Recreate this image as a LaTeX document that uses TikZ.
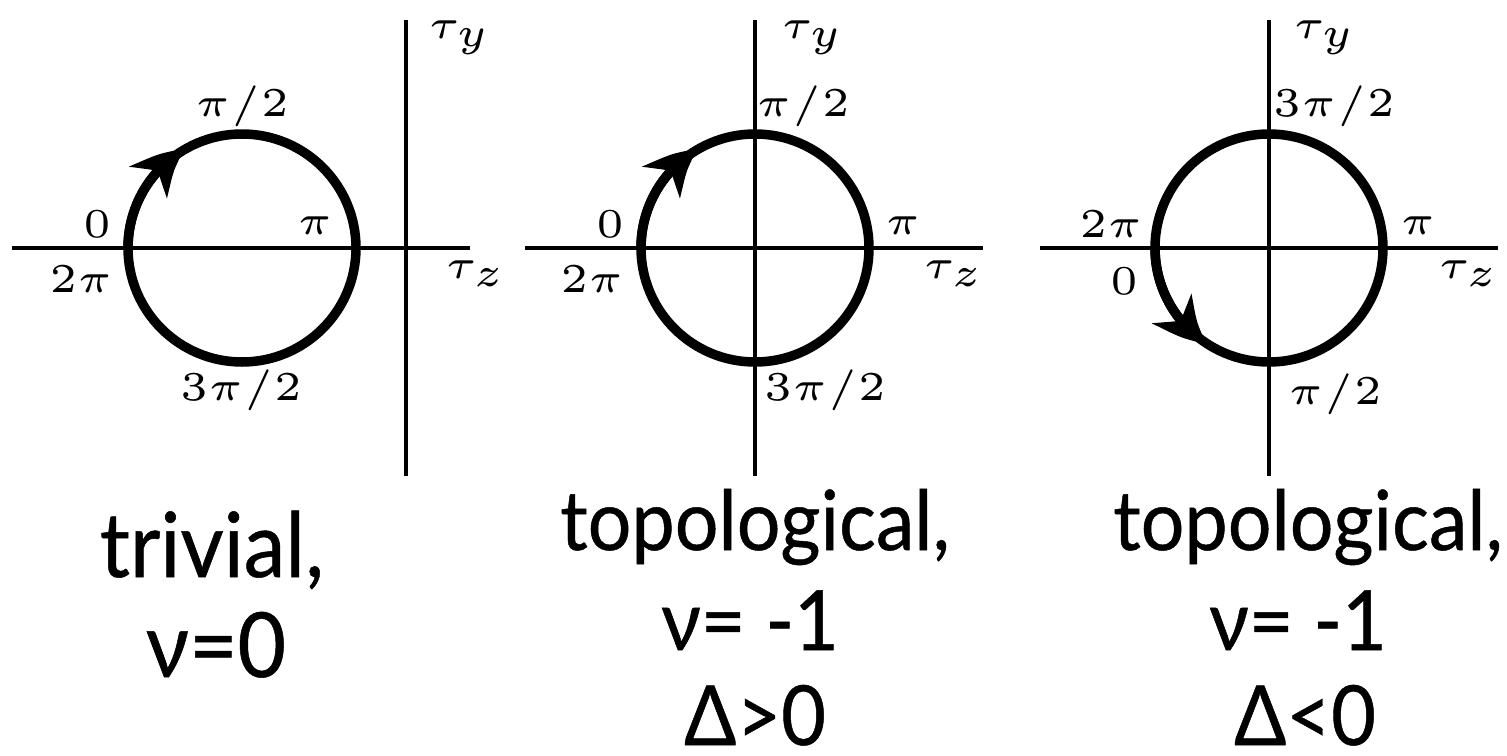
\documentclass[tikz,border=0pt]{standalone}
\usepackage[no-math]{fontspec}
\newfontfamily\gillfont[FakeBold=0.6]{Lato}
\usetikzlibrary{arrows.meta,bending}
\newcommand\mlab[1]{\scalebox{8.2}{$\scriptscriptstyle #1$}}
\newcommand\capt[1]{\scalebox{0.93}[1]{#1}}
\newcommand\captflat[1]{\raisebox{0pt}[\height][0pt]{\scalebox{0.93}[1]{#1}}}
\begin{document}
\begin{tikzpicture}[x=1pt,y=-1pt,
  axis/.style={line width=4pt},
  orbit/.style={line width=9.5pt},
  flow/.style={line width=9.5pt,-{Stealth[length=50pt,width=48pt,inset=15pt,bend]}},
  lab/.style={inner sep=0pt,anchor=base},
  labl/.style={inner sep=0pt,anchor=base west},
  capA/.style={inner sep=0pt,anchor=base,font=\gillfont\fontsize{90}{96}\selectfont},
  capB/.style={inner sep=0pt,anchor=base,font=\gillfont\fontsize{83}{90}\selectfont}]
\useasboundingbox (0,0) rectangle (1507,755);

% ---------- panel 1 ----------
\coordinate (c1) at (242,248);
\coordinate (h1a) at (12,248);  \coordinate (h1b) at (470,248);
\coordinate (v1a) at (406,20);  \coordinate (v1b) at (406,476);
\draw[axis] (h1a) -- (h1b);
\draw[axis] (v1a) -- (v1b);
\draw[orbit] (c1) circle[radius=114];
\draw[flow] (c1) ++(180:114) arc[start angle=180,end angle=240,radius=114];
\node[lab] (p1top) at (242,116) {\mlab{\pi/2}};
\node[lab] (p1zero) at (97,237) {\mlab{0}};
\node[lab] (p1pi) at (315,234) {\mlab{\pi}};
\node[lab] (p1tpi) at (81,292) {\mlab{2\pi}};
\node[lab] (p1bot) at (241,400) {\mlab{3\pi/2}};
\node[labl] (p1ty) at (428,38) {\mlab{\tau_y}};
\node[labl] (p1tz) at (445,278) {\mlab{\tau_z}};

% ---------- panel 2 ----------
\coordinate (c2) at (755,248);
\coordinate (h2a) at (525,248);  \coordinate (h2b) at (983,248);
\coordinate (v2a) at (755,20);   \coordinate (v2b) at (755,476);
\draw[axis] (h2a) -- (h2b);
\draw[axis] (v2a) -- (v2b);
\draw[orbit] (c2) circle[radius=114];
\draw[flow] (c2) ++(180:114) arc[start angle=180,end angle=240,radius=114];
\node[lab] (p2top) at (803,116) {\mlab{\pi/2}};
\node[lab] (p2zero) at (610,237) {\mlab{0}};
\node[lab] (p2pi) at (903,234) {\mlab{\pi}};
\node[lab] (p2tpi) at (592,292) {\mlab{2\pi}};
\node[lab] (p2bot) at (825,400) {\mlab{3\pi/2}};
\node[labl] (p2ty) at (781,38) {\mlab{\tau_y}};
\node[labl] (p2tz) at (923,278) {\mlab{\tau_z}};

% ---------- panel 3 ----------
\coordinate (c3) at (1269,248);
\coordinate (h3a) at (1040,248);  \coordinate (h3b) at (1498,248);
\coordinate (v3a) at (1269,20);   \coordinate (v3b) at (1269,476);
\draw[axis] (h3a) -- (h3b);
\draw[axis] (v3a) -- (v3b);
\draw[orbit] (c3) circle[radius=114];
\draw[flow] (c3) ++(180:114) arc[start angle=180,end angle=123,radius=114];
\node[lab] (p3top) at (1334,116) {\mlab{3\pi/2}};
\node[lab] (p3tpi) at (1111,237) {\mlab{2\pi}};
\node[lab] (p3pi) at (1418,234) {\mlab{\pi}};
\node[lab] (p3zero) at (1124,294) {\mlab{0}};
\node[lab] (p3bot) at (1335,404) {\mlab{\pi/2}};
\node[labl] (p3ty) at (1293,38) {\mlab{\tau_y}};
\node[labl] (p3tz) at (1438,278) {\mlab{\tau_z}};

% ---------- captions ----------
\node[capA] (t1a) at (212,577) {\capt{trivial,}};
\node[capA] (t1b) at (216,677) {\capt{ν=0}};
\node[capB] (t2a) at (755,550) {\capt{topological,}};
\node[capB] (t2b) at (750,650) {\capt{ν= -1}};
\node[capB] (t2c) at (755,745) {\captflat{Δ>0}};
\node[capB] (t3a) at (1308,550) {\capt{topological,}};
\node[capB] (t3b) at (1298,650) {\capt{ν= -1}};
\node[capB] (t3c) at (1305,745) {\captflat{Δ<0}};
\end{tikzpicture}
\end{document}
